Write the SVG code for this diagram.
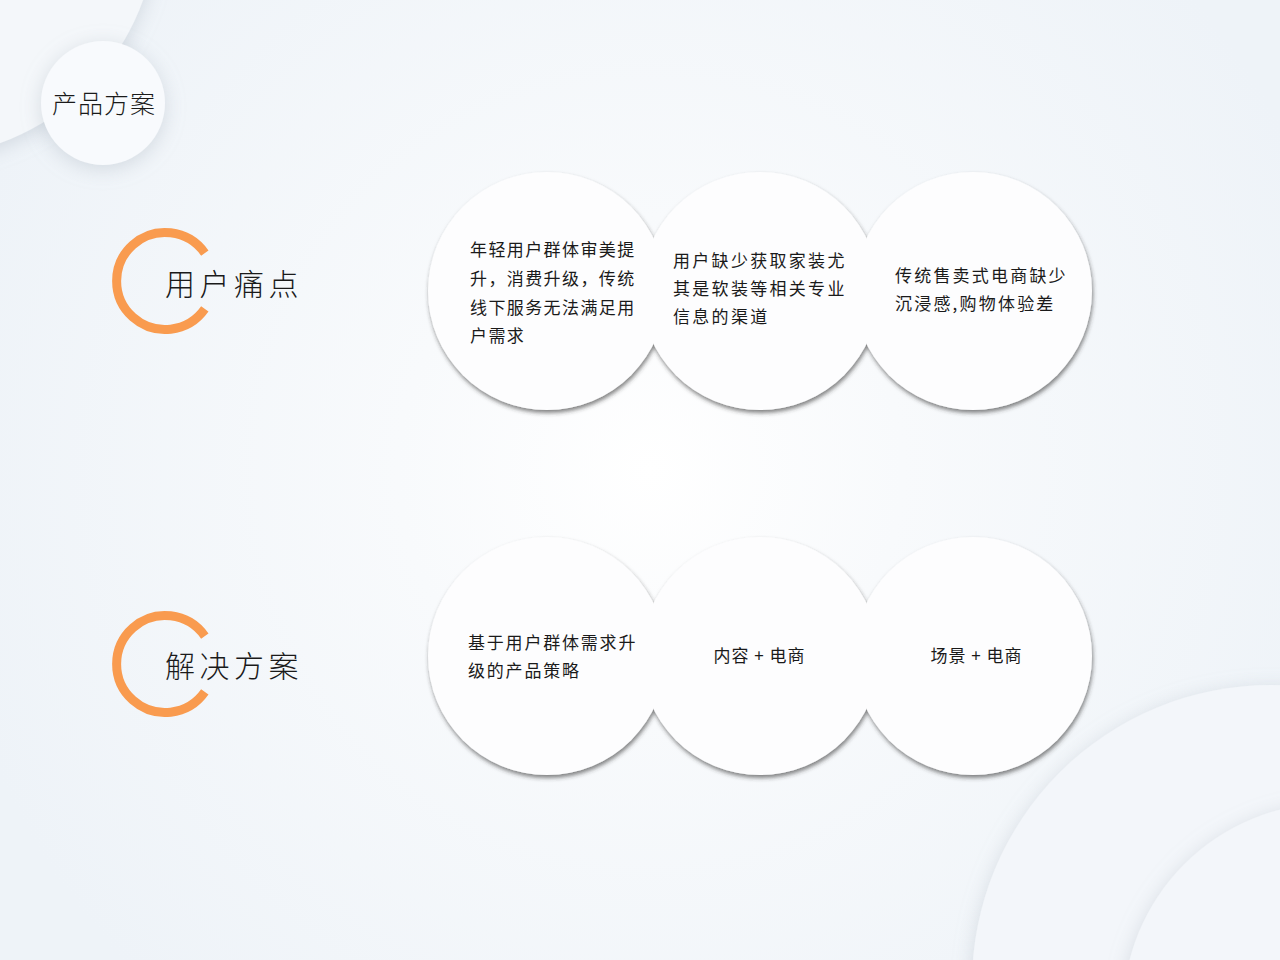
<svg xmlns="http://www.w3.org/2000/svg" width="1280" height="960" viewBox="0 0 1280 960">
<defs>
<radialGradient id="bg" cx="650" cy="470" r="720" gradientUnits="userSpaceOnUse">
<stop offset="0" stop-color="#ffffff"/>
<stop offset="0.35" stop-color="#f8fafc"/>
<stop offset="1" stop-color="#eef3f8"/>
</radialGradient>
<filter id="soft" x="-30%" y="-30%" width="160%" height="160%">
<feDropShadow dx="0" dy="4" stdDeviation="10" flood-color="#9aa6b4" flood-opacity="0.35"/>
</filter>
<filter id="sharp" x="-10%" y="-10%" width="120%" height="125%">
<feDropShadow dx="1" dy="3" stdDeviation="2.2" flood-color="#303030" flood-opacity="0.6"/>
</filter>
<style>
.t{font-family:"Noto Sans CJK SC","Noto Sans",sans-serif;fill:#1a1a1a;}
.body{font-size:17px;font-weight:400;}
.title{font-size:30px;font-weight:300;letter-spacing:4.5px;}
.arc{fill:none;stroke:#f99b4f;stroke-width:9;}
.bub{fill:#fdfdfe;}
</style>
</defs>
<rect width="1280" height="960" fill="url(#bg)"/>
<g id="decor">
<circle cx="-80" cy="-80" r="237" fill="#f4f7fa" filter="url(#soft)"/>
<circle cx="1271" cy="984" r="299" fill="#f3f6fa" filter="url(#soft)"/>
<circle cx="1332" cy="1012" r="209" fill="#f3f6fa" filter="url(#soft)"/>
</g>
<g id="badge">
<circle cx="103" cy="103" r="62" fill="#f8fafd" filter="url(#soft)"/>
<text class="t" x="104" y="113" font-size="25" font-weight="300" letter-spacing="1" text-anchor="middle">产品方案</text>
</g>
<g id="heading-pain">
<path class="arc" d="M 204.8 253.1 A 48.5 48.5 0 1 0 204.8 308.9"/>
<text class="t title" x="165" y="295">用户痛点</text>
</g>
<g id="heading-solution">
<path class="arc" d="M 204.8 636.1 A 48.5 48.5 0 1 0 204.8 691.9"/>
<text class="t title" x="165" y="677">解决方案</text>
</g>
<g id="row-pain" filter="url(#sharp)">
<circle class="bub" cx="547" cy="291" r="119"/>
<circle class="bub" cx="760" cy="291" r="119"/>
<circle class="bub" cx="973" cy="291" r="119"/>
</g>
<g id="row-solution" filter="url(#sharp)">
<circle class="bub" cx="547" cy="656" r="119"/>
<circle class="bub" cx="760" cy="656" r="119"/>
<circle class="bub" cx="973" cy="656" r="119"/>
</g>
<g id="pain-1">
<text class="t body" x="470" y="256" letter-spacing="1.4">年轻用户群体审美提</text>
<text class="t body" x="470" y="285" letter-spacing="1.4">升，消费升级，传统</text>
<text class="t body" x="470" y="314" letter-spacing="1.4">线下服务无法满足用</text>
<text class="t body" x="470" y="342" letter-spacing="1.4">户需求</text>
</g>
<g id="pain-2">
<text class="t body" x="673" y="267" letter-spacing="2.3">用户缺少获取家装尤</text>
<text class="t body" x="673" y="295" letter-spacing="2.3">其是软装等相关专业</text>
<text class="t body" x="673" y="323" letter-spacing="2.3">信息的渠道</text>
</g>
<g id="pain-3">
<text class="t body" x="895" y="282" letter-spacing="2.2">传统售卖式电商缺少</text>
<text class="t body" x="895" y="310" letter-spacing="2.2">沉浸感,购物体验差</text>
</g>
<g id="sol-1">
<text class="t body" x="468" y="649" letter-spacing="1.8">基于用户群体需求升</text>
<text class="t body" x="468" y="677" letter-spacing="1.8">级的产品策略</text>
</g>
<g id="sol-2">
<text class="t body" x="759.5" y="662" text-anchor="middle" letter-spacing="1">内容 + 电商</text>
</g>
<g id="sol-3">
<text class="t body" x="976.5" y="662" text-anchor="middle" letter-spacing="1">场景 + 电商</text>
</g>
<g id="connectors"/>
</svg>
